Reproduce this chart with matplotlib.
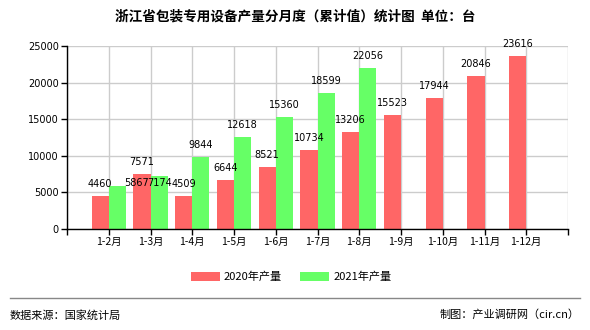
import matplotlib
matplotlib.use("Agg")
import matplotlib.pyplot as plt
import numpy as np

plt.rcParams['font.family'] = ['Noto Sans CJK SC', 'DejaVu Sans']

categories = ["1-2月", "1-3月", "1-4月", "1-5月", "1-6月", "1-7月", "1-8月",
              "1-9月", "1-10月", "1-11月", "1-12月"]
values_2020 = [4460, 7571, 4509, 6644, 8521, 10734, 13206, 15523, 17944, 20846, 23616]
values_2021 = [5867, 7174, 9844, 12618, 15360, 18599, 22056, None, None, None, None]
series_names = ["2020年产量", "2021年产量"]
title = "浙江省包装专用设备产量分月度（累计值）统计图  单位：台"
yticks = [0, 5000, 10000, 15000, 20000, 25000]

red = "#ff6666"
green = "#66ff66"

fig = plt.figure(figsize=(5.9, 3.3), dpi=100)
ax = fig.add_axes([67/590, 1-229/330, (568-67)/590, (229-46)/330])

x = np.arange(len(categories))
w = 0.41
ax.bar(x - w/2, values_2020, width=w, color=red, zorder=3, label=series_names[0])
x21 = [xi for xi, v in zip(x, values_2021) if v is not None]
v21 = [v for v in values_2021 if v is not None]
ax.bar(np.array(x21) + w/2, v21, width=w, color=green, zorder=3, label=series_names[1])

px = 72 / 100.0  # points per pixel
lab_kw = dict(ha='center', va='center', fontsize=7.0, family='DejaVu Sans',
              zorder=4, textcoords='offset points')
for xi, v in zip(x, values_2020):
    ax.annotate(str(v), (xi - w/2, v), xytext=(0, 12 * px), **lab_kw)

# label layout shifts (overlap avoidance in the reference), in pixels
shift_2021 = {0: (19, 3), 1: (1, -6.5)}
for i, (xi, v) in enumerate(zip(x21, v21)):
    dx, dy = shift_2021.get(i, (0, 12))
    ax.annotate(str(v), (xi + w/2, v), xytext=(dx * px, dy * px), **lab_kw)

ax.set_xlim(-1, len(categories))
ax.set_ylim(0, 25000)
ax.set_yticks(yticks)
ax.set_yticklabels([str(t) for t in yticks], fontsize=7.0, family='DejaVu Sans')
ax.set_xticks(np.arange(-1, len(categories) + 1))
ax.set_xticklabels([""] + categories + [""], fontsize=7.5)
ax.tick_params(axis='both', length=4, width=1, color='black', pad=2)
ax.grid(True, color='#cccccc', linewidth=1, zorder=0)
for s in ['top', 'right']:
    ax.spines[s].set_visible(False)
for s in ['left', 'bottom']:
    ax.spines[s].set_color('black')
    ax.spines[s].set_linewidth(1)
    ax.spines[s].set_zorder(5)

fig.text(295/590, 1-17/330, title, ha='center', va='center', fontsize=9.8,
         fontweight='bold')

leg = fig.legend(loc='center', bbox_to_anchor=(291/590, 1-277/330), ncol=2,
                 frameon=False, fontsize=8, handlelength=2.6, handleheight=0.9,
                 columnspacing=1.6, handletextpad=0.4)

fig.add_artist(plt.Line2D([10/590, 580/590], [1-298/330, 1-298/330],
                          color='#888888', linewidth=1))
fig.text(10/590, 1-315/330, "数据来源：国家统计局", ha='left', va='center', fontsize=8)
fig.text(580/590, 1-315/330, "制图：产业调研网（cir.cn）", ha='right', va='center', fontsize=8)

fig.savefig("out.png", dpi=100)
